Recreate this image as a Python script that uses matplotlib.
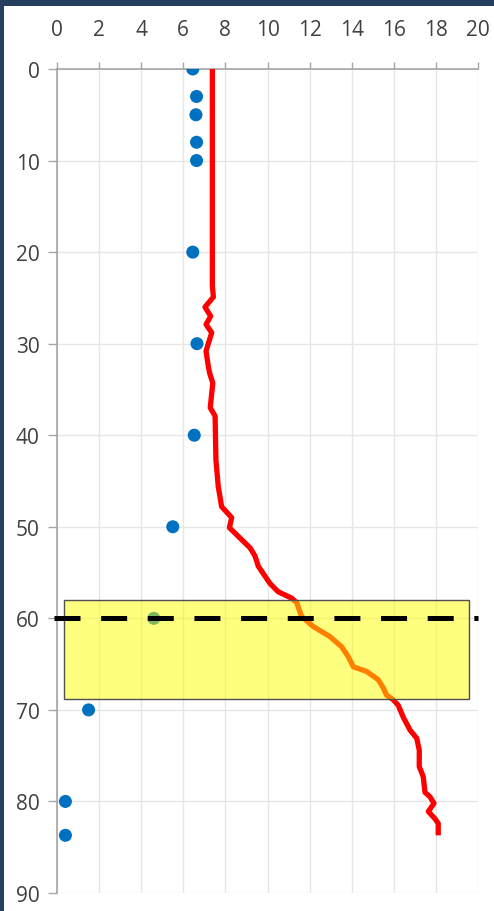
import matplotlib
matplotlib.use('Agg')
import matplotlib.pyplot as plt
from matplotlib.patches import Rectangle

# measured points (blue dots)
dot_depth = [0, 3, 5, 8, 10, 20, 30, 40, 50, 60, 70, 80, 83.7]
dot_value = [6.45, 6.63, 6.6, 6.63, 6.63, 6.45, 6.65, 6.52, 5.5, 4.6, 1.5, 0.4, 0.4]

# profile (red line)
line_depth = [0, 23.7, 24.9, 26.0, 27.0, 27.9, 28.8, 30.8, 32.5, 33.2, 34.3, 37.0, 37.9,
              42.7, 45.6, 47.8, 49.0, 50.1, 52.3, 53.2, 54.3, 56.2, 57.1, 57.8, 58.3,
              59.8, 60.9, 62.0, 63.1, 64.2, 65.3, 65.8, 66.7, 67.6, 68.4, 68.9, 69.5,
              70.8, 72.2, 73.1, 74.4, 76.2, 77.3, 79.0, 79.5, 80.2, 81.1, 81.9, 82.4, 83.7]
line_value = [7.38, 7.38, 7.43, 7.03, 7.30, 7.08, 7.35, 7.08, 7.19, 7.25, 7.40, 7.28, 7.51,
              7.55, 7.66, 7.82, 8.30, 8.19, 9.17, 9.41, 9.56, 10.12, 10.51, 11.15, 11.39,
              11.62, 12.18, 12.97, 13.52, 13.84, 14.08, 14.71, 15.26, 15.50, 15.66, 15.98, 16.21,
              16.45, 16.77, 17.09, 17.21, 17.21, 17.40, 17.48, 17.72, 17.91, 17.64, 17.96, 18.11, 18.11]

# highlighted band and marker depth
band_x = (0.33, 19.55)
band_y = (58.0, 68.8)
mark_depth = 60

x_ticks = list(range(0, 21, 2))
y_ticks = list(range(0, 91, 10))

plt.rcParams['font.family'] = ['Open Sans', 'DejaVu Sans']

W, H = 494, 912
fig = plt.figure(figsize=(W / 100, H / 100), dpi=100, facecolor='#243F60')
fig.patches.append(Rectangle((4 / W, 0), 1, 1 - 7 / H, transform=fig.transFigure,
                             facecolor='white', edgecolor='none', zorder=-5))

ax = fig.add_axes([57 / W, 1 - 894 / H, (478 - 57) / W, (894 - 70) / H])
ax.set_facecolor('white')

ax.plot(line_value, line_depth, color='#FF0000', lw=3.8, zorder=3,
        solid_joinstyle='round', solid_capstyle='butt')
ax.scatter(dot_value, dot_depth, s=88, color='#0070C0', edgecolors='none', zorder=4)

ax.add_patch(Rectangle((band_x[0], band_y[0]), band_x[1] - band_x[0], band_y[1] - band_y[0],
                       facecolor=(1, 1, 0, 0.5), edgecolor='#505050', lw=1, zorder=5))
ax.plot([-0.15, 20], [mark_depth, mark_depth], color='black', lw=3.6,
        ls=(0, (5.2, 4.13)), zorder=6, clip_on=False)

ax.set_xlim(0, 20)
ax.set_ylim(90, 0)
ax.set_xticks(x_ticks)
ax.set_yticks(y_ticks)
ax.xaxis.tick_top()
ax.grid(True, color='#E6E6E6', lw=1)
ax.set_axisbelow(True)

for s in ['right', 'bottom']:
    ax.spines[s].set_visible(False)
for s in ['top', 'left']:
    ax.spines[s].set_color('#A6A6A6')
    ax.spines[s].set_linewidth(1.2)

ax.tick_params(axis='x', which='both', direction='out', length=5, width=1, color='#A6A6A6',
               labelsize=15, labelcolor='#404040', pad=16)
ax.tick_params(axis='y', direction='out', length=6.5, width=1, color='#A6A6A6',
               labelsize=15, labelcolor='#404040', pad=6)

fig.savefig('out.png', dpi=100, facecolor=fig.get_facecolor())
